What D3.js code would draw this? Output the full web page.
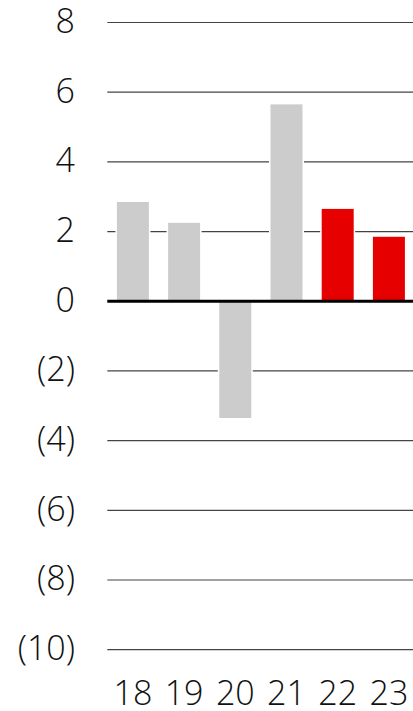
<!DOCTYPE html>
<html><head><meta charset="utf-8">
<script src="https://cdn.jsdelivr.net/npm/d3@7"></script>
<style>html,body{margin:0;padding:0;background:#fff;}svg{display:block;}</style>
</head><body>
<svg id="c" width="413" height="711"></svg>
<script>
const categories = ["18","19","20","21","22","23"];
const values = [2.85, 2.25, -3.35, 5.65, 2.65, 1.85];
const highlighted = ["22","23"];
const yTicks = [8,6,4,2,0,-2,-4,-6,-8,-10];

const svg = d3.select("#c");
const x = d3.scaleBand().domain(categories).range([107.3, 414.5]).paddingInner(0.375).paddingOuter(0.1875);
const y = d3.scaleLinear().domain([-10, 8]).range([649.7, 22.5]);
const fmt = v => v < 0 ? "(" + Math.abs(v) + ")" : String(v);
const font = "'Open Sans', 'Noto Sans', sans-serif";

// gridlines
svg.append("g").selectAll("line").data(yTicks.filter(d => d !== 0)).join("line")
  .attr("x1", 107.3).attr("x2", 413).attr("y1", d => y(d)).attr("y2", d => y(d))
  .attr("stroke", "#444").attr("stroke-width", 1.2);

// y labels
svg.append("g").selectAll("text").data(yTicks).join("text")
  .attr("x", 75).attr("y", d => y(d) - 1.5).attr("dy", "0.35em")
  .attr("text-anchor", "end")
  .attr("font-family", font).attr("font-weight", 300).attr("font-size", 34)
  .attr("fill", "#111").text(fmt);

// bars
svg.append("g").selectAll("rect").data(categories).join("rect")
  .attr("x", d => x(d)).attr("width", x.bandwidth())
  .attr("y", (d, i) => y(Math.max(0, values[i])))
  .attr("height", (d, i) => Math.abs(y(values[i]) - y(0)))
  .attr("fill", d => highlighted.includes(d) ? "#e60000" : "#cccccc")
  .attr("stroke", "#fff").attr("stroke-width", 3).attr("paint-order", "stroke");

// zero line
svg.append("line").attr("x1", 107.3).attr("x2", 413).attr("y1", y(0)).attr("y2", y(0))
  .attr("stroke", "#000").attr("stroke-width", 3);

// x labels
svg.append("g").selectAll("text").data(categories).join("text")
  .attr("x", d => x(d) + x.bandwidth() / 2).attr("y", 705)
  .attr("text-anchor", "middle")
  .attr("font-family", font).attr("font-weight", 300).attr("font-size", 34)
  .attr("fill", "#111").text(d => d);
</script>
</body></html>
